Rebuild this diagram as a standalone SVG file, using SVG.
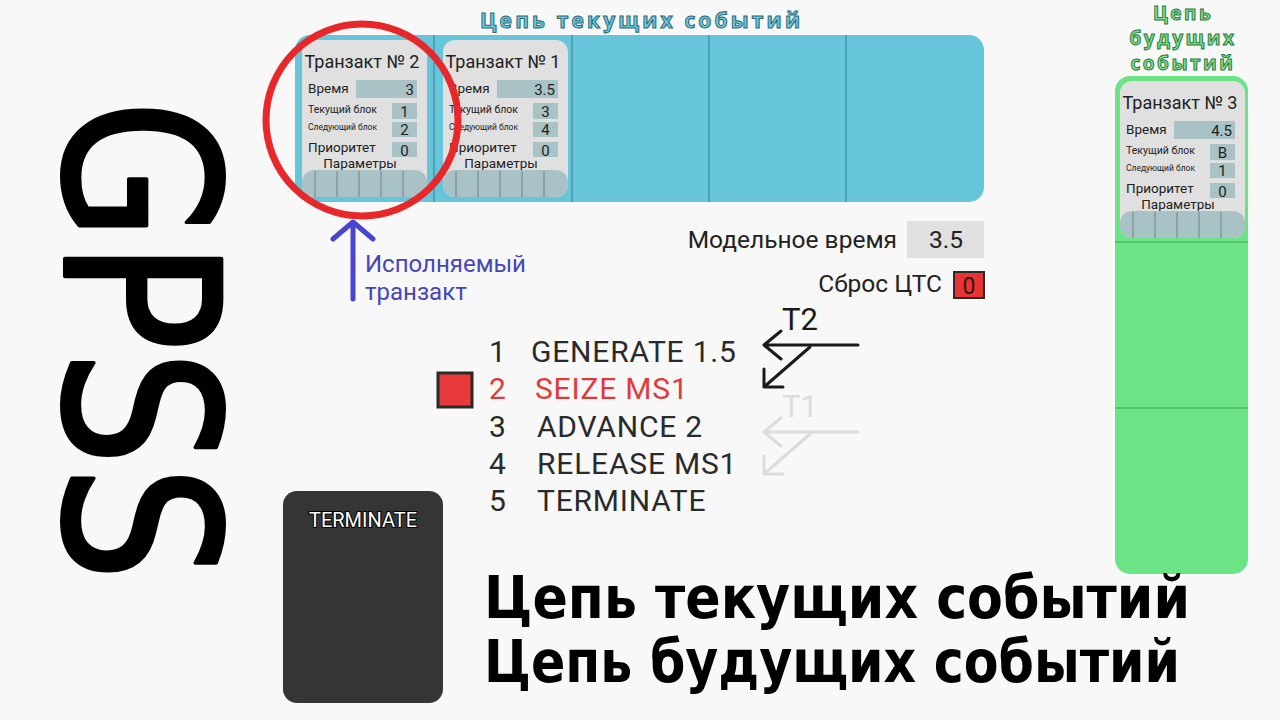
<svg xmlns="http://www.w3.org/2000/svg" width="1280" height="720" viewBox="0 0 1280 720">
<defs>
<style>
.t{font-family:Roboto,"Liberation Sans",sans-serif;fill:#222}
.card{fill:#e0e0e0}
.vb{fill:#a9c2c5}
.pbar{fill:#a9c2c5}
.pdiv{stroke:#6f8385;stroke-width:1}
.ttl{font-size:18px}
.lb1{font-size:13.5px}
.lb2{font-size:10.5px}
.lb3{font-size:8.5px}
.lb4{font-size:13.5px}
.val{font-size:15px}
.prog{font-family:Roboto,"Liberation Sans",sans-serif;font-size:30px;fill:#2a2a2a;letter-spacing:0.8px}
.arr{fill:none;stroke-width:3;stroke-linecap:round;stroke-linejoin:round}
</style>
</defs>
<rect width="1280" height="720" fill="#f8f8f8"/>

<!-- GPSS vertical -->
<text transform="translate(65,100) rotate(90)" font-family="DejaVu Sans,sans-serif" font-size="214" fill="#000" stroke="#000" stroke-width="4" stroke-linejoin="round" textLength="481" lengthAdjust="spacingAndGlyphs">GPSS</text>

<!-- Current events chain -->
<g id="cec">
<text x="640" y="28" text-anchor="middle" font-family="'Open Sans','DejaVu Sans',sans-serif" font-weight="bold" font-size="21" fill="#6cc8dc" stroke="#2b6878" stroke-width="1" textLength="320" lengthAdjust="spacing">Цепь текущих событий</text>
<rect x="295" y="35" width="689" height="167" rx="15" fill="#67c5da"/>
<g stroke="#3d8a9c" stroke-width="1.2">
<line x1="434" y1="35" x2="434" y2="202"/>
<line x1="572" y1="35" x2="572" y2="202"/>
<line x1="709" y1="35" x2="709" y2="202"/>
<line x1="846" y1="35" x2="846" y2="202"/>
</g>
</g>

<!-- Card T2 -->
<g id="card-t2" transform="translate(302,40)">
<rect class="card" width="125" height="157" rx="12"/>
<text class="t ttl" x="60" y="28" text-anchor="middle">Транзакт № 2</text>
<text class="t lb1" x="6" y="53">Время</text>
<rect class="vb" x="54" y="40" width="61" height="18"/>
<text class="t val" x="112" y="55" text-anchor="end">3</text>
<text class="t lb2" x="6" y="73">Текущий блок</text>
<rect class="vb" x="90" y="63" width="25" height="16"/>
<text class="t val" x="102.5" y="77" text-anchor="middle">1</text>
<text class="t lb3" x="6" y="90">Следующий блок</text>
<rect class="vb" x="90" y="82" width="25" height="15"/>
<text class="t val" x="102.5" y="95" text-anchor="middle">2</text>
<text class="t lb4" x="6" y="112">Приоритет</text>
<rect class="vb" x="90" y="102" width="25" height="15"/>
<text class="t val" x="102.5" y="116" text-anchor="middle">0</text>
<text class="t lb4" x="58" y="128" text-anchor="middle">Параметры</text>
<rect class="pbar" x="0" y="130" width="125" height="27" rx="12"/>
<g class="pdiv"><line x1="13" y1="131" x2="13" y2="157"/><line x1="35" y1="131" x2="35" y2="157"/><line x1="57" y1="131" x2="57" y2="157"/><line x1="79" y1="131" x2="79" y2="157"/><line x1="101" y1="131" x2="101" y2="157"/></g>
</g>

<!-- Card T1 -->
<g id="card-t1" transform="translate(443,40)">
<rect class="card" width="125" height="157" rx="12"/>
<text class="t ttl" x="60" y="28" text-anchor="middle">Транзакт № 1</text>
<text class="t lb1" x="6" y="53">Время</text>
<rect class="vb" x="54" y="40" width="61" height="18"/>
<text class="t val" x="112" y="55" text-anchor="end">3.5</text>
<text class="t lb2" x="6" y="73">Текущий блок</text>
<rect class="vb" x="90" y="63" width="25" height="16"/>
<text class="t val" x="102.5" y="77" text-anchor="middle">3</text>
<text class="t lb3" x="6" y="90">Следующий блок</text>
<rect class="vb" x="90" y="82" width="25" height="15"/>
<text class="t val" x="102.5" y="95" text-anchor="middle">4</text>
<text class="t lb4" x="6" y="112">Приоритет</text>
<rect class="vb" x="90" y="102" width="25" height="15"/>
<text class="t val" x="102.5" y="116" text-anchor="middle">0</text>
<text class="t lb4" x="58" y="128" text-anchor="middle">Параметры</text>
<rect class="pbar" x="0" y="130" width="125" height="27" rx="12"/>
<g class="pdiv"><line x1="13" y1="131" x2="13" y2="157"/><line x1="35" y1="131" x2="35" y2="157"/><line x1="57" y1="131" x2="57" y2="157"/><line x1="79" y1="131" x2="79" y2="157"/><line x1="101" y1="131" x2="101" y2="157"/></g>
</g>

<!-- Red circle -->
<circle id="exec-circle" cx="362" cy="120" r="96" fill="none" stroke="#e8272b" stroke-width="7"/>

<!-- Future events chain -->
<g id="fec">
<g font-family="'Open Sans','DejaVu Sans',sans-serif" font-weight="bold" font-size="19" fill="#7fe08e" stroke="#2c7a3c" stroke-width="1" text-anchor="middle" letter-spacing="2.5">
<text x="1183" y="20">Цепь</text>
<text x="1183" y="45">будущих</text>
<text x="1183" y="70">событий</text>
</g>
<rect x="1115" y="76" width="133" height="498" rx="15" fill="#6ce485"/>
<g stroke="#3ea355" stroke-width="1.2">
<line x1="1115" y1="242" x2="1248" y2="242"/>
<line x1="1115" y1="408" x2="1248" y2="408"/>
</g>
</g>

<!-- Card T3 -->
<g id="card-t3" transform="translate(1120,81)">
<rect class="card" width="125" height="157" rx="12"/>
<text class="t ttl" x="60" y="28" text-anchor="middle">Транзакт № 3</text>
<text class="t lb1" x="6" y="53">Время</text>
<rect class="vb" x="54" y="40" width="61" height="18"/>
<text class="t val" x="112" y="55" text-anchor="end">4.5</text>
<text class="t lb2" x="6" y="73">Текущий блок</text>
<rect class="vb" x="90" y="63" width="25" height="16"/>
<text class="t val" x="102.5" y="77" text-anchor="middle">B</text>
<text class="t lb3" x="6" y="90">Следующий блок</text>
<rect class="vb" x="90" y="82" width="25" height="15"/>
<text class="t val" x="102.5" y="95" text-anchor="middle">1</text>
<text class="t lb4" x="6" y="112">Приоритет</text>
<rect class="vb" x="90" y="102" width="25" height="15"/>
<text class="t val" x="102.5" y="116" text-anchor="middle">0</text>
<text class="t lb4" x="58" y="128" text-anchor="middle">Параметры</text>
<rect class="pbar" x="0" y="130" width="125" height="27" rx="12"/>
<g class="pdiv"><line x1="13" y1="131" x2="13" y2="157"/><line x1="35" y1="131" x2="35" y2="157"/><line x1="57" y1="131" x2="57" y2="157"/><line x1="79" y1="131" x2="79" y2="157"/><line x1="101" y1="131" x2="101" y2="157"/></g>
</g>

<!-- Executed transaction label -->
<g id="exec-label">
<text font-family="Roboto,'Liberation Sans',sans-serif" font-size="24" fill="#4646b8"><tspan x="365" y="272">Исполняемый</tspan><tspan x="365" y="300">транзакт</tspan></text>
</g>

<!-- Model time -->
<g id="model-time">
<text class="t" x="897" y="248" font-size="24.5" text-anchor="end">Модельное время</text>
<rect x="907" y="221" width="77" height="37" fill="#e0e0e0"/>
<text class="t" x="946" y="248" font-size="24.5" text-anchor="middle">3.5</text>
</g>
<g id="reset">
<text class="t" x="942" y="292" font-size="24.5" text-anchor="end">Сброс ЦТС</text>
<rect x="954" y="272" width="30" height="26" fill="#e83333" stroke="#2a2a2a" stroke-width="2"/>
<text x="969" y="294" font-family="Roboto,'Liberation Sans',sans-serif" font-size="23" fill="#3a1010" text-anchor="middle">0</text>
</g>

<!-- Program -->
<g id="program">
<rect x="438" y="373" width="34" height="34" fill="#e83a3a" stroke="#2a2a2a" stroke-width="3"/>
<text class="prog" x="489" y="362">1</text><text class="prog" x="531" y="362">GENERATE 1.5</text>
<text class="prog" x="489" y="399" style="fill:#e03a3a">2</text><text class="prog" x="535" y="399" style="fill:#e03a3a">SEIZE MS1</text>
<text class="prog" x="489" y="437">3</text><text class="prog" x="537" y="437">ADVANCE 2</text>
<text class="prog" x="489" y="474">4</text><text class="prog" x="537" y="474">RELEASE MS1</text>
<text class="prog" x="489" y="511">5</text><text class="prog" x="537" y="511">TERMINATE</text>
</g>

<!-- TERMINATE block -->
<g id="terminate-box">
<rect x="283" y="491" width="160" height="212" rx="14" fill="#353535"/>
<text x="363" y="527" font-family="Roboto,'Liberation Sans',sans-serif" font-size="20" fill="#fff" stroke="#000" stroke-width="2" paint-order="stroke" text-anchor="middle">TERMINATE</text>
</g>

<!-- Connectors -->
<g id="connectors">
<path d="M353 299 V224 M333 239 L353 222 L373 239" fill="none" stroke="#4646cc" stroke-width="5" stroke-linecap="round" stroke-linejoin="round"/>
<g stroke="#1a1a1a" class="arr">
<path d="M858 345 H764 M781 331 L764 345 L781 359"/>
<path d="M810 347 L764 387 M764 369 V387 H783"/>
</g>
<g stroke="#dcdcdc" class="arr">
<path d="M858 432 H764 M781 418 L764 432 L781 446"/>
<path d="M810 434 L764 474 M764 456 V474 H783"/>
</g>
<text x="782" y="330" font-family="Roboto,'Liberation Sans',sans-serif" font-size="31" fill="#1a1a1a">T2</text>
<text x="782" y="417" font-family="Roboto,'Liberation Sans',sans-serif" font-size="31" fill="#dcdcdc">T1</text>
</g>

<!-- Bottom titles -->
<g id="bottom-title" font-family="'DejaVu Sans Condensed','DejaVu Sans',sans-serif" font-weight="bold" font-size="59" fill="#000">
<text x="484" y="618" textLength="706" lengthAdjust="spacingAndGlyphs">Цепь текущих событий</text>
<text x="484" y="682" textLength="696" lengthAdjust="spacingAndGlyphs">Цепь будущих событий</text>
</g>
</svg>
